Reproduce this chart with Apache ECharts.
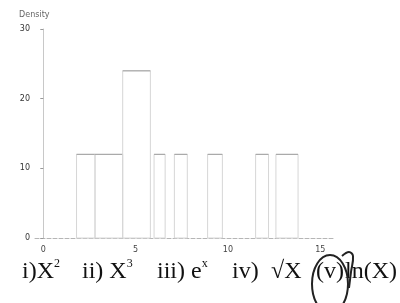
<!DOCTYPE html>
<html>
<head>
<meta charset="utf-8">
<script src="https://cdn.jsdelivr.net/npm/echarts@6/dist/echarts.min.js"></script>
<style>
    html, body { margin: 0; padding: 0; background: #fff; }
    #chart { width: 400px; height: 303px; }
</style>
</head>
<body>
<div id="chart"></div>
<script>
    // histogram bins
    var binStart = [1.8, 2.8, 4.3, 6.0, 7.1, 8.9, 11.5, 12.6];
    var binEnd = [2.8, 4.3, 5.8, 6.6, 7.8, 9.7, 12.2, 13.8];
    var density = [12, 12, 24, 12, 12, 12, 12, 12];
    var xTicks = [0, 5, 10, 15];
    // answer options printed under the plot
    var choices = ['{n|i)X}{s|2}', '{n|ii) X}{s|3}', '{n|iii) e}{s|x}', '{n|iv)}', '{n|√X}', '{n|(v)}', '{n|ln(X)}'];
    var choiceX = [22, 82, 157, 232, 271, 316, 345];

    var bins = binStart.map(function (s, i) {
        return [s, binEnd[i], density[i]];
    });

    var richStyle = {
        n: { fontSize: 24, fontFamily: 'Liberation Serif', fill: '#111', lineHeight: 28 },
        s: { fontSize: 12, fontFamily: 'Liberation Serif', fill: '#111', lineHeight: 14, verticalAlign: 'top' }
    };

    var textItems = choices.map(function (t, i) {
        return {
            type: 'text',
            x: choiceX[i],
            y: 258,
            style: { text: t, rich: richStyle }
        };
    });

    var myChart = echarts.init(document.getElementById('chart'));
    var option = {
        backgroundColor: '#fff',
        animation: false,
        grid: { left: 35, right: 65, top: 29, bottom: 65 },
        xAxis: {
            type: 'value',
            min: -0.45,
            max: 15.8,
            splitLine: { show: false },
            axisLine: { lineStyle: { color: '#b5b5b5', type: 'dashed' } },
            axisTick: { show: false },
            axisLabel: {
                customValues: xTicks,
                color: '#444',
                fontSize: 8,
                margin: 8,
                fontFamily: 'DejaVu Sans'
            }
        },
        yAxis: {
            type: 'value',
            min: 0,
            max: 30,
            interval: 10,
            name: 'Density',
            nameGap: 10,
            nameTextStyle: { color: '#666', fontSize: 8, fontFamily: 'DejaVu Sans', padding: [0, 18, 0, 0] },
            splitLine: { show: false },
            axisLine: { show: true, lineStyle: { color: '#c8c8c8' } },
            axisTick: { show: true, length: 3, lineStyle: { color: '#999' } },
            axisLabel: { color: '#333', fontSize: 8, margin: 5, fontFamily: 'DejaVu Sans' }
        },
        series: [{
            type: 'custom',
            data: bins,
            renderItem: function (params, api) {
                var p0 = api.coord([api.value(0), 0]);
                var p1 = api.coord([api.value(1), api.value(2)]);
                return {
                    type: 'group',
                    children: [{
                        type: 'rect',
                        shape: { x: p0[0], y: p1[1], width: p1[0] - p0[0], height: p0[1] - p1[1] },
                        style: { fill: 'none', stroke: '#d6d6d6', lineWidth: 1 }
                    }, {
                        type: 'line',
                        shape: { x1: p0[0], y1: p1[1], x2: p1[0], y2: p1[1] },
                        style: { stroke: '#aaaaaa', lineWidth: 1.2 }
                    }]
                };
            }
        }],
        graphic: textItems.concat([{
            // hand-drawn loop round "(v)"
            type: 'ellipse',
            shape: { cx: 330, cy: 284, rx: 18, ry: 29 },
            style: { fill: 'none', stroke: '#222', lineWidth: 2 }
        }, {
            type: 'polyline',
            shape: { points: [[342, 256], [349, 252], [353, 256], [351, 272], [349, 288]], smooth: 0.4 },
            style: { fill: 'none', stroke: '#222', lineWidth: 2 }
        }])
    };
    myChart.setOption(option);
    window.addEventListener('resize', function () {
        myChart.resize();
    });
</script>
</body>
</html>
